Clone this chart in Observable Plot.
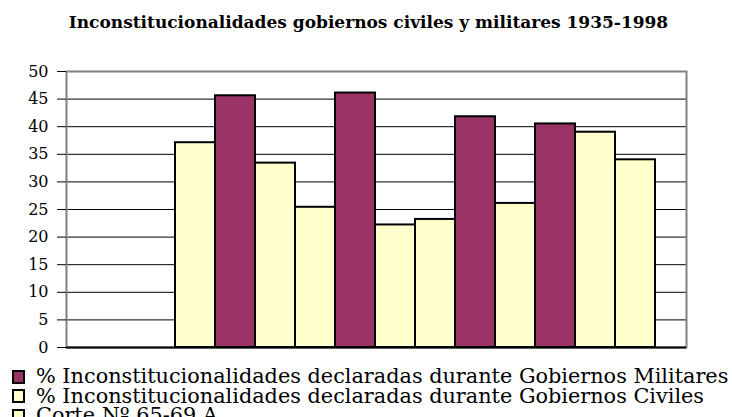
<!DOCTYPE html>
<html>
<head>
<meta charset="utf-8">
<script src="https://cdn.jsdelivr.net/npm/d3@7"></script>
<script src="https://cdn.jsdelivr.net/npm/@observablehq/plot@0.6"></script>
<style>
  html, body { margin: 0; padding: 0; background: #fff; overflow: hidden; }
  body { width: 732px; height: 417px; position: relative; font-family: "DejaVu Serif", serif; }
  #title { position: absolute; left: 0; top: 12px; width: 737px; text-align: center;
           font-weight: bold; font-size: 17px; color: #000; line-height: 20px; }
  #chart { position: absolute; left: 0; top: 40px; }
  #legend { position: absolute; left: 12px; top: 367px; font-size: 20.8px; line-height: 19.5px; color: #000; white-space: nowrap; }
  .item { display: flex; align-items: center; height: 19.5px; }
  .sw { width: 9px; height: 10px; border: 2px solid #000; margin-right: 11px; flex: none; }
</style>
</head>
<body>
<div id="title">Inconstitucionalidades gobiernos civiles y militares 1935-1998</div>
<div id="chart"></div>
<div id="legend"></div>
<script>
// Data
const periodos = ["P1","P2","P3","P4","P5","P6","P7","P8","P9","P10","P11","P12"];
const gobiernos = ["Civil","Militar","Civil","Civil","Militar","Civil","Civil","Militar","Civil","Militar","Civil","Civil"];
const porcentajes = [37.1, 45.6, 33.4, 25.4, 46.1, 22.2, 23.2, 41.8, 26.1, 40.5, 39.0, 34.0];
const yTicks = [0, 5, 10, 15, 20, 25, 30, 35, 40, 45, 50];
const seriesNames = [
  "% Inconstitucionalidades declaradas durante Gobiernos Militares",
  "% Inconstitucionalidades declaradas durante Gobiernos Civiles",
  "Corte Nº 65-69 A"
];
const seriesKeys = ["Militar", "Civil", "Corte"];
const seriesColors = ["#993366", "#FFFFCC", "#FFFFCC"];

const data = periodos.map((p, i) => ({periodo: p, gobierno: gobiernos[i], valor: porcentajes[i]}));

const chart = Plot.plot({
  width: 732,
  height: 320,
  marginLeft: 66,
  marginRight: 46,
  marginTop: 31,
  marginBottom: 13,
  style: {fontFamily: "DejaVu Serif, serif", fontSize: "16px", color: "#000", background: "#fff"},
  x: {type: "band", domain: periodos, range: [175, 655], padding: 0, axis: null},
  y: {domain: [0, 50]},
  color: {domain: seriesKeys, range: seriesColors},
  marks: [
    Plot.ruleY(yTicks, {stroke: "#000", strokeWidth: 1}),
    Plot.frame({stroke: "#808080", strokeWidth: 2}),
    Plot.barY(data, {x: "periodo", y: "valor", fill: "gobierno", stroke: "#000", strokeWidth: 2, insetLeft: 0, insetRight: 0}),
    Plot.ruleY([0], {stroke: "#000", strokeWidth: 2}),
    Plot.axisY({ticks: yTicks, tickSize: 9, tickPadding: 9, label: null, stroke: "#000", fontSize: 16, fill: "#000"})
  ]
});
document.getElementById("chart").appendChild(chart);

const legend = document.getElementById("legend");
seriesNames.forEach((name, i) => {
  const row = document.createElement("div");
  row.className = "item";
  const sw = document.createElement("div");
  sw.className = "sw";
  sw.style.background = seriesColors[i];
  const t = document.createElement("span");
  t.textContent = name;
  row.appendChild(sw);
  row.appendChild(t);
  legend.appendChild(row);
});
</script>
</body>
</html>
